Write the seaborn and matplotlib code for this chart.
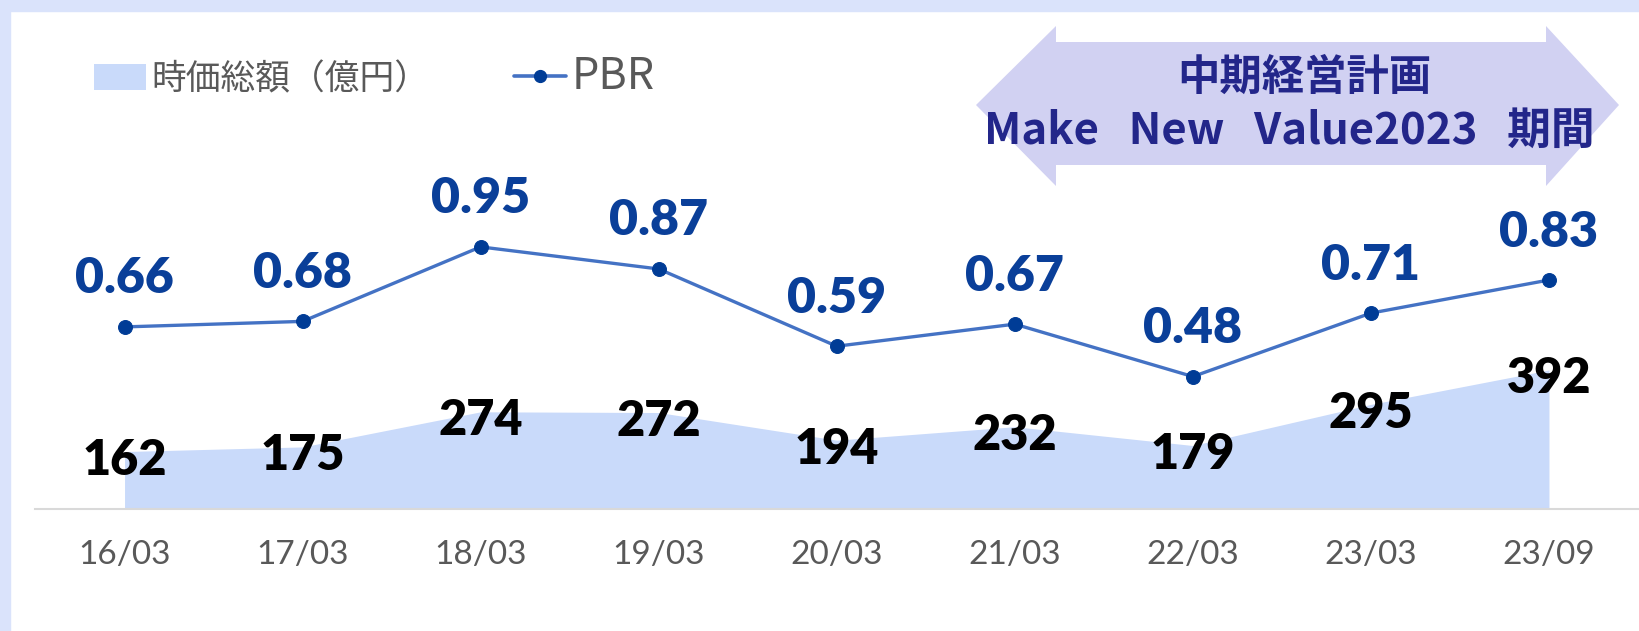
import matplotlib
matplotlib.use("Agg")
import matplotlib.pyplot as plt
import seaborn as sns
import pandas as pd
from matplotlib.patches import Polygon, Rectangle, Patch
from matplotlib.lines import Line2D

# data
periods = ['16/03', '17/03', '18/03', '19/03', '20/03', '21/03', '22/03', '23/03', '23/09']
market_cap = [162, 175, 274, 272, 194, 232, 179, 295, 392]   # 億円
pbr = [0.66, 0.68, 0.95, 0.87, 0.59, 0.67, 0.48, 0.71, 0.83]

banner_title = '中期経営計画'
banner_sub = 'Make   New   Value2023   期間'

sns.set_theme(style="white")
plt.rcParams['font.family'] = ['Lato', 'Noto Sans CJK JP', 'DejaVu Sans']

W, H = 1640, 631
df = pd.DataFrame({'period': periods, 'cap': market_cap, 'pbr': pbr})
df['x'] = range(len(df))

fig = plt.figure(figsize=(W / 100, H / 100), dpi=100)
fig.patch.set_facecolor('white')

# light blue frame on top and left edge
frame_col = '#dae3fb'
fig.patches.append(Rectangle((0, 1 - 11 / H), 1, 11 / H, transform=fig.transFigure,
                             color=frame_col, zorder=0))
fig.patches.append(Rectangle((0, 0), 10 / W, 1, transform=fig.transFigure,
                             color=frame_col, zorder=0))

ax = fig.add_axes([35.5 / W, (H - 509) / H, (1638 - 35.5) / W, (509 - 11) / H])
ax.patch.set_alpha(0)

# market cap area
area_col = '#c9dafa'
ax.fill_between(df['x'], df['cap'], color=area_col, lw=0, zorder=1)
ax.set_xlim(-0.5, 8.5)
ax.set_ylim(0, 1404)
for i, v in zip(df['x'], df['cap']):
    ax.annotate(str(v), (i, v), xytext=(0, -9), textcoords='offset pixels',
                ha='center', va='center', fontsize=35, fontweight='heavy',
                color='black', zorder=5)

# PBR line
ax2 = ax.twinx()
sns.lineplot(data=df, x='x', y='pbr', ax=ax2, color='#4472c4', lw=2.4,
             marker='o', markersize=10, markerfacecolor='#003c96',
             markeredgecolor='#003c96')
ax2.set_ylim(0, 1.805)
for i, v in zip(df['x'], df['pbr']):
    ax2.annotate(f'{v:.2f}', (i, v), xytext=(0, 48), textcoords='offset pixels',
                 ha='center', va='center', fontsize=36, fontweight='heavy',
                 color='#0a3f99')

for a in (ax, ax2):
    for s in ['top', 'right', 'left']:
        a.spines[s].set_visible(False)
    a.set_yticks([])
    a.set_ylabel('')
    a.set_xlabel('')
ax2.spines['bottom'].set_visible(False)
ax.spines['bottom'].set_color('#d9d9d9')
ax.spines['bottom'].set_linewidth(1.5)
ax.set_xticks(df['x'])
ax.set_xticklabels(periods, fontsize=24, color='#595959')
ax.tick_params(axis='x', length=0, pad=22)
ax2.tick_params(axis='x', length=0, labelbottom=False)

# legend
handles = [Patch(facecolor=area_col, edgecolor='none'),
           Line2D([0], [0], color='#4472c4', lw=2.6, marker='o', markersize=8.5,
                  markerfacecolor='#003c96', markeredgecolor='#003c96')]
leg = fig.legend(handles, ['時価総額（億円）', 'PBR'], ncol=2, loc='center left',
                 bbox_to_anchor=(94 / W, 1 - 77 / H), frameon=False,
                 borderpad=0, borderaxespad=0, handlelength=1.5, handleheight=0.8,
                 handletextpad=0.15, columnspacing=2.45,
                 prop={'family': ['Noto Sans CJK JP'], 'size': 25})
for t in leg.get_texts():
    t.set_color('#595959')
leg.get_texts()[1].set_fontsize(31)

# double-headed banner arrow for the mid-term plan period
pts_px = [(976, 105), (1056, 26), (1056, 42), (1546, 42), (1546, 26), (1619, 105),
          (1546, 186), (1546, 165), (1056, 165), (1056, 186)]
pts = [(px / W, 1 - py / H) for px, py in pts_px]
fig.patches.append(Polygon(pts, closed=True, transform=fig.transFigure,
                           facecolor='#d1d1f2', edgecolor='none', zorder=2))
fig.text(1304 / W, 1 - 78 / H, banner_title, ha='center', va='center',
         fontsize=30.5, fontweight='bold', color='#23268a',
         family=['Noto Sans CJK JP', 'DejaVu Sans'], zorder=3)
fig.text(1289 / W, 1 - 131 / H, banner_sub, ha='center', va='center',
         fontsize=31.5, fontweight='bold', color='#23268a',
         family=['Noto Sans CJK JP', 'DejaVu Sans'], zorder=3)

fig.savefig('out.png', dpi=100)
